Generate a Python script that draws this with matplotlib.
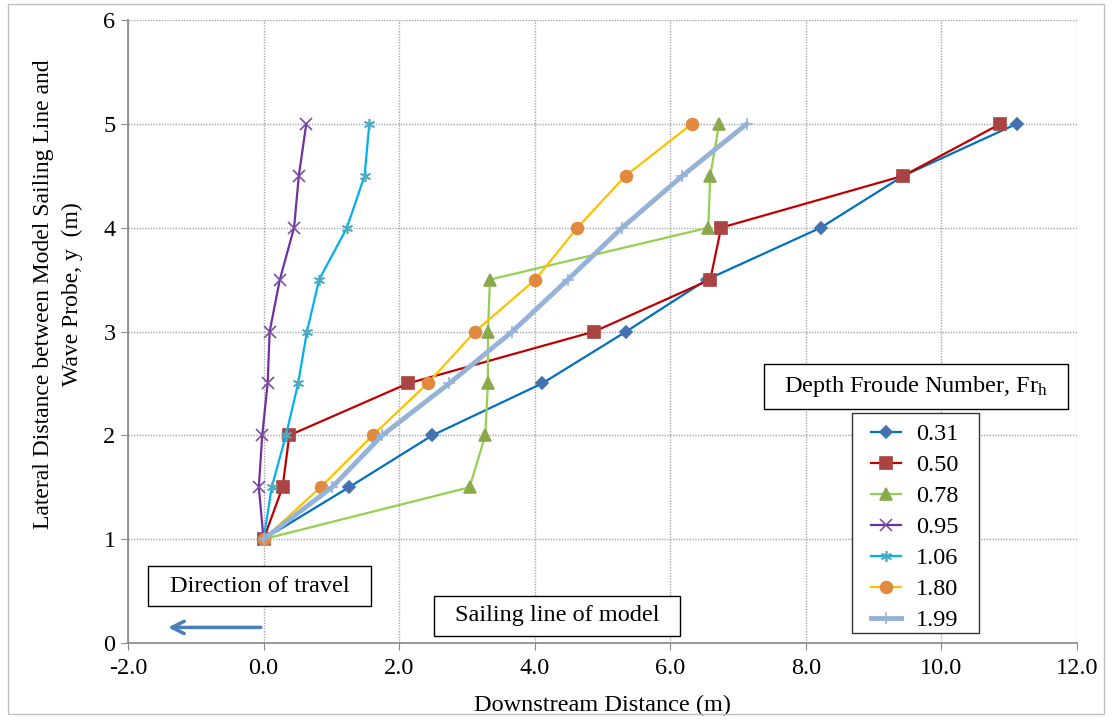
import matplotlib
matplotlib.use("Agg")
import matplotlib.pyplot as plt
from matplotlib.patches import Rectangle

plt.rcParams['font.family'] = ['Liberation Serif', 'DejaVu Serif']
plt.rcParams['mathtext.fontset'] = 'custom'
plt.rcParams['mathtext.rm'] = 'Liberation Serif'
plt.rcParams['mathtext.it'] = 'Liberation Serif:italic'

# ---- data ----
lateral_y = [1.0, 1.5, 2.0, 2.5, 3.0, 3.5, 4.0, 4.5, 5.0]
labels = ["0.31", "0.50", "0.78", "0.95", "1.06", "1.80", "1.99"]
x_031 = [0.00, 1.26, 2.49, 4.11, 5.35, 6.54, 8.22, 9.44, 11.11]
x_050 = [0.00, 0.28, 0.38, 2.13, 4.88, 6.59, 6.75, 9.44, 10.87]
x_078 = [0.00, 3.04, 3.27, 3.31, 3.31, 3.34, 6.56, 6.59, 6.72]
x_095 = [0.00, -0.07, -0.02, 0.06, 0.09, 0.24, 0.45, 0.52, 0.63]
x_106 = [0.00, 0.12, 0.33, 0.51, 0.64, 0.82, 1.23, 1.49, 1.56]
x_180 = [0.00, 0.84, 1.61, 2.42, 3.12, 4.01, 4.63, 5.34, 6.32]
x_199 = [0.00, 1.01, 1.75, 2.74, 3.67, 4.49, 5.29, 6.18, 7.13]
series_x = [x_031, x_050, x_078, x_095, x_106, x_180, x_199]

x_ticks = [-2.0, 0.0, 2.0, 4.0, 6.0, 8.0, 10.0, 12.0]
y_ticks = [0, 1, 2, 3, 4, 5, 6]

# ---- styles ----
line_colors = ['#0070C0', '#C00000', '#92D050', '#7030A0', '#00B0F0', '#FFC000', '#95B3D7']
marker_colors = ['#4472B0', '#A94442', '#8BA94B', '#7A4FA0', '#4BACC6', '#E0893F', '#95B3D7']
markers = ['D', 's', '^', 'x', (6, 2, 0), 'o', '+']
msizes = [6, 8.5, 8.5, 8, 8, 8.5, 9]
lws = [1.6, 1.6, 1.6, 1.6, 1.6, 1.6, 3.5]
FS = 17.5

W, H = 1112, 720
fig = plt.figure(figsize=(W / 100, H / 100), dpi=100)
ax = fig.add_axes([128 / W, 1 - 643 / H, (1077 - 128) / W, (643 - 20) / H])

for xs, lab, lc, mc, mk, ms, lw in zip(series_x, labels, line_colors, marker_colors, markers, msizes, lws):
    ax.plot(xs, lateral_y, color=lc, lw=lw, marker=mk, ms=ms, markerfacecolor=mc,
            markeredgecolor=mc, markeredgewidth=1.2, label=lab, zorder=3)

ax.set_xlim(-2, 12)
ax.set_ylim(0, 6)
ax.set_xticks(x_ticks)
ax.set_xticklabels([f"{v:.1f}" for v in x_ticks])
ax.set_yticks(y_ticks)
ax.grid(True, color='#a6a6a6', linestyle=(0, (1, 1)), linewidth=1)
ax.set_axisbelow(True)
for s in ['top', 'right']:
    ax.spines[s].set_visible(False)
for s in ['left', 'bottom']:
    ax.spines[s].set_color('#868686')
    ax.spines[s].set_linewidth(1.2)
ax.tick_params(axis='both', colors='#868686', labelcolor='black', labelsize=FS, length=5, direction='out')
ax.tick_params(axis='x', pad=6)
ax.tick_params(axis='y', pad=4)

ax.set_xlabel("Downstream Distance (m)", fontsize=FS, va='center')
ax.xaxis.set_label_coords(0.5, -(705 - 643) / 623)
ax.set_ylabel("Lateral Distance between Model Sailing Line and\nWave Probe, y  (m)", fontsize=17,
              linespacing=1.5, va='center', ha='center')
ax.yaxis.set_label_coords((58 - 128) / 949, (643 - 294) / 623)

# direction arrow
ax.annotate('', xy=(-1.45, 0.15), xytext=(0.0, 0.15),
            arrowprops=dict(arrowstyle='->', lw=2.5, color='#4A7EBB', mutation_scale=22))

# boxes with text (figure pixel coords)
def rect(x0, y0, x1, y1, z=5, ec='black'):
    fig.add_artist(Rectangle((x0 / W, 1 - y1 / H), (x1 - x0) / W, (y1 - y0) / H,
                             transform=fig.transFigure, facecolor='white', edgecolor=ec, lw=1, zorder=z))

def box(x0, y0, x1, y1, text, fs=FS):
    rect(x0, y0, x1, y1)
    fig.text((x0 + x1) / 2 / W, 1 - (y0 + y1) / 2 / H, text, ha='center', va='center',
             fontsize=fs, zorder=6)

box(764, 364, 1068, 409, r"Depth Froude Number, Fr$_{\mathrm{h}}$")
box(148, 566, 371, 606, "Direction of travel")
box(434, 596, 680, 636, "Sailing line of model")

# legend frame drawn separately, legend as figure legend on top
rect(852, 413, 979, 633, z=6, ec='#333333')
handles, leg_labels = ax.get_legend_handles_labels()
leg = fig.legend(handles, leg_labels, loc='upper left', bbox_to_anchor=(871 / W, 1 - 423 / H),
                 bbox_transform=fig.transFigure, fontsize=FS, frameon=False,
                 handlelength=1.25, labelspacing=0.37, borderpad=0, handletextpad=0.6, borderaxespad=0)
leg.set_zorder(8)

# outer border
fig.add_artist(Rectangle((8 / W, 1 - 714 / H), (1104 - 8) / W, (714 - 4) / H, transform=fig.transFigure,
                         fill=False, edgecolor='#bfbfbf', lw=1))

fig.savefig("out.png", dpi=100)
